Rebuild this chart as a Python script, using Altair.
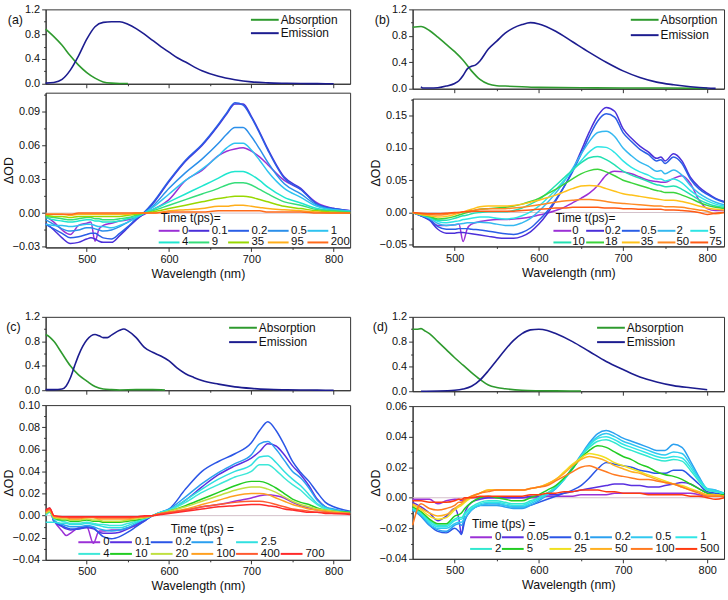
import altair as alt
import pandas as pd

FONT = "Liberation Sans"

# ---------------- Panel (a) ----------------
A_ABS_WL = [450, 460, 470, 480, 490, 500, 510, 520, 530, 540, 550]
A_ABS = [0.88, 0.76, 0.62, 0.45, 0.30, 0.18, 0.09, 0.03, 0.01, 0.005, 0.005]
A_EM_WL = [450, 460, 470, 480, 490, 500, 510, 520, 530, 540, 550, 560, 570, 580, 590, 600, 610, 620, 640, 660,
           680, 700, 720, 740, 760, 780, 800]
A_EM = [0.01, 0.02, 0.07, 0.22, 0.45, 0.72, 0.92, 0.99, 1.0, 1.0, 0.96, 0.89, 0.80, 0.70, 0.60, 0.51, 0.42, 0.35,
        0.21, 0.12, 0.065, 0.03, 0.015, 0.008, 0.004, 0.002, 0.0]
A_WL = [450, 460, 470, 480, 490, 500, 505, 510, 515, 520, 530, 540, 550, 560, 570, 580, 600, 620, 640, 660, 670, 680,
        690, 700, 710, 720, 740, 760, 780, 800, 820]
A_TIMES = ["0", "0.1", "0.2", "0.5", "1", "4", "9", "35", "95", "200"]
A_COLORS = ["#9b30d6", "#4b2fd9", "#2a5ee6", "#2b8fea", "#2fc3f0", "#1fe6cf", "#35dd7a", "#98d800", "#ffae1a", "#ff6a1a"]
A_MOD = [  # delta OD x 1000
    [-3, -8, -15, -19, -11, -9, -8, -25, -14, -11, -9, -7, -6, -4, -1, 3, 12, 29, 38, 51, 55, 57, 58, 55, 50, 43, 29, 21, 9, 4, 2],
    [-9, -15, -22, -27, -26, -23, -22, -23, -25, -26, -26, -20, -13, -6, 0, 8, 28, 46, 60, 78, 88, 97, 97, 86, 72, 57, 32, 22, 8, 4, 2],
    [-10, -14, -18, -22, -21, -19, -18, -18, -20, -22, -23, -18, -12, -5, 1, 9, 29, 47, 61, 79, 89, 98, 96, 85, 71, 56, 31, 21, 8, 4, 2],
    [-6, -10, -14, -16, -15, -13, -13, -14, -15, -16, -15, -12, -8, -4, 0, 6, 22, 36, 48, 62, 70, 76, 76, 68, 57, 45, 26, 17, 7, 3, 2],
    [-10, -11, -11, -12, -11, -10, -10, -11, -12, -12, -13, -11, -8, -4, 0, 5, 17, 29, 39, 51, 58, 62, 62, 56, 47, 37, 22, 14, 6, 3, 2],
    [-4, -6, -7, -8, -7, -6, -6, -7, -7, -8, -8, -7, -5, -3, 0, 3, 10, 17, 24, 31, 35, 37, 37, 34, 29, 23, 14, 9, 4, 2, 1],
    [-3, -4, -5, -6, -5, -4, -4, -5, -5, -6, -6, -5, -4, -2, 0, 2, 7, 12, 17, 22, 25, 27, 27, 25, 21, 17, 10, 7, 3, 2, 1],
    [-2, -3, -3, -4, -3, -3, -3, -3, -3, -3, -3, -3, -2, -1, 0, 1, 4, 7, 10, 13, 14, 15, 15, 14, 12, 10, 6, 4, 2, 1, 0],
    [-1, -1, -1, -2, -1, -1, -1, -1, -1, -1, -1, -1, -1, 0, 0, 0, 2, 3, 4, 6, 6, 7, 7, 6, 5, 4, 3, 2, 1, 0, 0],
    [-1, -1, -1, -1, 0, 0, 0, 0, 0, 0, 0, 0, 0, 0, 0, 0, 1, 1, 1, 2, 2, 2, 2, 2, 2, 1, 1, 1, 0, 0, 0],
]

# ---------------- Panel (b) ----------------
B_ABS_WL = [450, 460, 470, 480, 490, 500, 510, 520, 530, 540, 550, 560, 580, 600, 650, 700, 750, 800]
B_ABS = [0.93, 0.94, 0.88, 0.78, 0.67, 0.56, 0.43, 0.27, 0.14, 0.07, 0.045, 0.04, 0.03, 0.02, 0.015, 0.01, 0.01, 0.005]
B_EM_WL = [460, 462, 470, 480, 490, 500, 505, 510, 515, 520, 525, 530, 540, 550, 560, 570, 580, 590, 600, 620,
           640, 660, 680, 700, 720, 740, 760, 780, 800, 810]
B_EM = [0.03, 0.01, 0.01, 0.015, 0.04, 0.08, 0.12, 0.2, 0.3, 0.34, 0.36, 0.42, 0.6, 0.72, 0.84, 0.92, 0.97, 1.0, 0.98,
        0.87, 0.71, 0.55, 0.4, 0.27, 0.17, 0.1, 0.06, 0.03, 0.01, 0.005]
B_WL = [450, 460, 470, 480, 490, 500, 505, 510, 515, 520, 530, 540, 550, 560, 570, 580, 590, 600, 610, 620, 630, 640,
        650, 660, 670, 680, 690, 700, 710, 720, 730, 740, 745, 750, 760, 770, 780, 790, 800, 810, 820]
B_TIMES = ["0", "0.2", "0.5", "2", "5", "10", "18", "35", "50", "75"]
B_COLORS = ["#9b30d6", "#4b2fd9", "#2a5ee6", "#35b8f0", "#2ee5e5", "#22e0b0", "#3bd43b", "#ffc21a", "#ff8a24", "#ff5a14"]
B_MOD = [
    [0, -5, -10, -20, -20, -19, -18, -45, -25, -18, -14, -12, -11, -11, -10, -9, -7, -4, -1, 3, 8, 15, 22, 30, 42, 58, 64, 63, 60, 55, 50, 48, 47, 47, 53, 57, 45, 20, 6, 3, 3],
    [0, -5, -12, -26, -32, -32, -31, -31, -32, -33, -35, -37, -39, -40, -40, -37, -30, -18, -2, 18, 40, 65, 95, 125, 150, 163, 157, 130, 115, 103, 94, 84, 86, 80, 91, 80, 55, 40, 30, 22, 17],
    [0, -5, -11, -22, -26, -26, -25, -25, -25, -26, -27, -29, -31, -33, -34, -31, -24, -12, 2, 20, 40, 63, 90, 118, 142, 153, 148, 124, 110, 98, 90, 80, 82, 76, 86, 76, 52, 37, 28, 21, 16],
    [0, -4, -9, -17, -20, -19, -18, -17, -16, -16, -15, -16, -18, -20, -20, -16, -9, 2, 15, 30, 48, 68, 90, 110, 124, 126, 118, 100, 88, 78, 72, 64, 65, 60, 66, 58, 42, 30, 22, 16, 12],
    [0, -4, -8, -14, -16, -14, -13, -11, -10, -9, -7, -7, -9, -10, -9, -5, 1, 10, 22, 35, 50, 65, 80, 94, 102, 101, 93, 80, 70, 63, 58, 52, 52, 49, 52, 46, 34, 25, 18, 13, 10],
    [0, -4, -7, -12, -12, -9, -7, -5, -4, -2, 0, 1, 1, 1, 3, 7, 13, 20, 30, 42, 54, 66, 77, 85, 87, 82, 74, 64, 58, 53, 48, 43, 42, 40, 41, 36, 28, 20, 14, 10, 8],
    [0, -3, -6, -10, -9, -6, -4, -2, 0, 2, 5, 6, 7, 8, 10, 13, 17, 22, 29, 36, 44, 52, 60, 65, 67, 63, 57, 50, 46, 42, 38, 34, 33, 31, 31, 27, 22, 16, 11, 8, 6],
    [0, -3, -5, -7, -6, -3, -1, 1, 3, 5, 9, 10, 10, 10, 11, 13, 16, 19, 23, 27, 32, 37, 41, 42, 41, 37, 33, 29, 27, 25, 23, 21, 20, 19, 19, 17, 14, 10, 7, 5, 4],
    [0, -2, -3, -4, -3, -1, 0, 1, 2, 3, 5, 6, 6, 6, 7, 8, 10, 12, 14, 16, 18, 19, 20, 20, 19, 17, 15, 14, 13, 12, 11, 10, 10, 9, 9, 8, 6, 4, 2, -2, 0],
    [0, -1, -2, -2, -1, 0, 0, 1, 1, 2, 2, 2, 2, 2, 2, 3, 4, 5, 6, 7, 7, 8, 8, 8, 8, 7, 7, 6, 6, 5, 5, 5, 5, 4, 4, 3, 2, 0, -3, -1, 0],
]

# ---------------- Panel (c) ----------------
C_ABS_WL = [450, 455, 460, 470, 480, 490, 500, 510, 520, 530, 540, 560, 580, 595]
C_ABS = [0.91, 0.87, 0.80, 0.60, 0.40, 0.25, 0.15, 0.06, 0.02, 0.01, 0.005, 0.01, 0.01, 0.005]
C_EM_WL = [450, 460, 470, 475, 480, 485, 490, 500, 510, 515, 520, 525, 530, 540, 545, 550, 560, 570, 580, 590, 600,
           610, 620, 630, 640, 660, 680, 700, 720, 740, 760, 780, 800]
C_EM = [0.01, 0.01, 0.02, 0.07, 0.2, 0.39, 0.57, 0.82, 0.91, 0.89, 0.86, 0.86, 0.9, 0.98, 1.0, 0.97, 0.86, 0.7, 0.62,
        0.56, 0.48, 0.36, 0.27, 0.21, 0.16, 0.1, 0.055, 0.03, 0.015, 0.008, 0.004, 0.002, 0.0]
C_WL = [450, 455, 460, 470, 475, 480, 490, 500, 508, 515, 520, 530, 540, 550, 560, 570, 580, 590, 600, 620, 640, 660,
        680, 700, 710, 720, 730, 740, 750, 760, 770, 780, 790, 800, 820]
C_TIMES = ["0", "0.1", "0.2", "1", "2.5", "4", "10", "20", "100", "400", "700"]
C_COLORS = ["#9b30d6", "#5a2fe0", "#2a55e6", "#2a9ff0", "#30e0e0", "#3de8d8", "#22cc22", "#c0e040", "#ffa020", "#ff5a30", "#ff2a2a"]
C_MOD = [
    [2, 5, -4, -14, -18, -16, -11, -10, -25, -14, -14, -13, -13, -11, -9, -5, 0, 2, 3, 5, 8, 10, 13, 16, 18, 19, 18, 16, 12, 9, 7, 5, 4, 3, 2],
    [3, 6, -5, -10, -12, -13, -12, -11, -12, -15, -16, -16, -15, -12, -8, -4, 0, 3, 5, 14, 26, 37, 45, 52, 58, 65, 63, 55, 45, 37, 27, 15, 8, 5, 3],
    [3, 7, -5, -9, -11, -12, -12, -10, -11, -16, -19, -21, -19, -15, -10, -5, 0, 3, 6, 24, 40, 49, 56, 66, 77, 85, 77, 64, 49, 39, 31, 21, 12, 8, 4],
    [2, 5, -4, -8, -9, -10, -10, -9, -10, -12, -13, -14, -13, -11, -7, -3, 0, 3, 6, 17, 29, 39, 47, 55, 65, 67, 60, 50, 40, 34, 25, 14, 8, 6, 3],
    [-6, -6, -6, -7, -7, -8, -8, -7, -8, -9, -10, -11, -11, -9, -6, -3, 0, 3, 5, 14, 24, 33, 40, 46, 53, 54, 48, 40, 33, 27, 19, 11, 7, 5, 3],
    [0, 3, -3, -5, -6, -7, -7, -6, -7, -8, -8, -9, -9, -7, -5, -2, 0, 3, 5, 12, 21, 28, 35, 40, 46, 46, 41, 34, 28, 23, 16, 10, 6, 4, 3],
    [2, 4, -2, -4, -4, -5, -5, -4, -5, -5, -6, -6, -6, -5, -4, -2, 0, 2, 4, 9, 15, 21, 27, 31, 31, 29, 25, 20, 15, 12, 10, 7, 5, 4, 3],
    [2, 4, -2, -3, -3, -4, -4, -3, -4, -4, -5, -5, -5, -4, -3, -2, 0, 2, 4, 8, 13, 18, 23, 26, 26, 24, 21, 17, 13, 10, 8, 6, 5, 4, 2],
    [3, 5, -1, -2, -2, -3, -3, -2, -2, -3, -3, -3, -3, -3, -2, -1, 0, 2, 3, 6, 10, 14, 18, 20, 20, 19, 16, 13, 10, 8, 6, 5, 4, 3, 2],
    [4, 6, 0, -1, -1, -2, -2, -1, -1, -2, -2, -2, -2, -2, -1, -1, 0, 2, 3, 5, 8, 10, 12, 13, 13, 12, 10, 8, 6, 5, 4, 3, 3, 2, 2],
    [5, 7, 0, -1, -1, -1, -1, -1, -1, -1, -1, -1, -1, -1, -1, 0, 0, 1, 2, 4, 6, 8, 9, 10, 10, 9, 8, 6, 5, 4, 3, 3, 2, 2, 1],
]

# ---------------- Panel (d) ----------------
D_ABS_WL = [450, 455, 460, 465, 470, 480, 490, 500, 510, 520, 530, 540, 550, 560, 580, 600, 620, 650]
D_ABS = [1.0, 1.0, 1.01, 0.97, 0.93, 0.8, 0.67, 0.54, 0.42, 0.3, 0.19, 0.1, 0.06, 0.04, 0.015, 0.008, 0.005, 0.003]
D_EM_WL = [460, 480, 500, 510, 520, 530, 540, 550, 560, 570, 580, 590, 600, 610, 620, 640, 660, 680, 700, 720, 740,
           760, 780, 800]
D_EM = [0.0, 0.003, 0.015, 0.035, 0.08, 0.18, 0.33, 0.5, 0.67, 0.82, 0.93, 0.99, 1.0, 0.98, 0.93, 0.8, 0.64, 0.48,
        0.35, 0.23, 0.15, 0.09, 0.055, 0.025]
D_WL = [450, 460, 470, 480, 490, 500, 505, 508, 512, 520, 530, 540, 550, 560, 570, 580, 590, 600, 610, 620, 630, 640,
        650, 660, 670, 680, 690, 700, 710, 720, 730, 740, 750, 760, 770, 780, 790, 800, 810, 820]
D_TIMES = ["0", "0.05", "0.1", "0.2", "0.5", "1", "2", "5", "25", "50", "100", "500"]
D_COLORS = ["#9b30d6", "#5a30e0", "#2a55e6", "#2aa0f0", "#30c8f0", "#30e6e6", "#30e8d0", "#22cc22", "#f0e020", "#ffb020", "#ff7a20", "#ff3a10"]
D_MOD = [
    [-1, -1, -1, -4, -2, -1, -1, -2, -1, 0, 0, 0, 0, 0, 0, 0, 0, 0, 1, 1, 1, 1, 2, 2, 2, 2, 3, 3, 3, 3, 3, 3, 3, 3, 3, 3, 2, 1, 1, 1],
    [-3, -6, -10, -15, -12, -7, -14, -24, -10, -3, -1, 0, 0, 0, 0, 0, 1, 1, 2, 2, 3, 4, 5, 6, 7, 8, 9, 9, 8, 8, 7, 7, 8, 9, 10, 9, 6, 3, 2, 1],
    [-8, -12, -18, -22, -23, -20, -22, -24, -15, -8, -5, -4, -4, -5, -6, -6, -5, -3, -1, 1, 3, 5, 8, 13, 19, 23, 22, 21, 20, 18, 17, 16, 16, 18, 18, 14, 9, 4, 3, 2],
    [-8, -12, -18, -21, -22, -18, -17, -18, -14, -8, -5, -5, -5, -6, -7, -7, -5, -2, 2, 6, 12, 20, 28, 36, 42, 44, 42, 39, 37, 35, 33, 31, 31, 35, 33, 24, 14, 6, 5, 3],
    [-8, -11, -17, -20, -20, -17, -16, -16, -13, -8, -5, -4, -4, -5, -6, -6, -4, -1, 2, 6, 12, 19, 27, 35, 40, 42, 40, 37, 35, 33, 31, 29, 28, 30, 29, 22, 13, 6, 5, 3],
    [-7, -10, -16, -19, -19, -15, -14, -14, -11, -7, -4, -3, -3, -4, -5, -5, -3, 0, 3, 7, 12, 19, 27, 34, 39, 40, 38, 35, 33, 31, 29, 27, 26, 27, 26, 20, 12, 6, 4, 3],
    [-7, -10, -15, -18, -18, -14, -13, -13, -10, -6, -3, -2, -2, -3, -4, -4, -2, 0, 3, 7, 12, 19, 27, 33, 37, 38, 36, 33, 31, 29, 27, 25, 24, 25, 24, 18, 11, 5, 4, 3],
    [-6, -9, -14, -17, -17, -12, -11, -10, -7, -3, 0, 1, 0, -1, -2, -2, 0, 2, 5, 8, 13, 19, 26, 31, 34, 33, 30, 27, 25, 22, 20, 17, 15, 14, 12, 9, 6, 3, 2, 2],
    [-5, -8, -12, -14, -13, -8, -6, -5, -3, 0, 3, 5, 5, 5, 5, 5, 6, 7, 9, 12, 17, 22, 26, 29, 28, 26, 23, 21, 19, 17, 15, 13, 11, 9, 8, 6, 4, 2, 2, 1],
    [-4, -7, -10, -12, -11, -7, -5, -4, -2, 1, 3, 5, 5, 5, 5, 5, 6, 7, 9, 12, 16, 21, 25, 27, 26, 24, 21, 19, 17, 16, 14, 12, 10, 9, 7, 5, 4, 2, 2, 1],
    [-18, -4, -7, -8, -7, -5, -3, -3, -1, 1, 3, 4, 5, 5, 5, 5, 6, 7, 8, 11, 14, 17, 20, 21, 19, 17, 15, 14, 13, 12, 12, 11, 10, 9, 7, 5, 3, 1, 1, 1],
    [-2, -2, -3, -3, -3, -2, -1, -1, 0, 0, 1, 1, 1, 1, 1, 1, 2, 2, 3, 3, 4, 4, 5, 5, 5, 4, 4, 3, 3, 3, 2, 2, 2, 2, 2, 1, 1, 0, -1, 0],
]

ABS_COLOR = "#2e9a2e"
EM_COLOR = "#1c1c8f"
X_VALUES = [500, 550, 600, 650, 700, 750, 800]
X_TEST = "datum.value % 100 === 0"


def cond(test, major, minor):
    return {"condition": {"test": test, "value": major}, "value": minor}


def x_enc(show_labels):
    if show_labels:
        ax = alt.Axis(values=X_VALUES, labelExpr=X_TEST + " ? datum.label : ''", tickSize=cond(X_TEST, 4, 2),
                      title="Wavelength (nm)", labelPadding=2, titlePadding=3, labelOverlap=False,
                      titleFontSize=12.5)
    else:
        ax = alt.Axis(values=X_VALUES, labels=False, title=None, tickSize=cond(X_TEST, 4, 2))
    return alt.X("wl:Q", scale=alt.Scale(domain=[450, 820], nice=False, zero=False), axis=ax)


def top_chart(abs_wl, abs_v, em_wl, em_v, tag, width, height, leg_x, leg_y, row_pad, title_x):
    df = pd.DataFrame({
        "wl": list(abs_wl) + list(em_wl),
        "v": list(abs_v) + list(em_v),
        "s": ["Absorption"] * len(abs_wl) + ["Emission"] * len(em_wl),
    })
    legend = alt.Legend(title=None, orient="none", legendX=leg_x, legendY=leg_y,
                        symbolType="M-2.8,0H2.8", symbolSize=100, symbolStrokeWidth=2,
                        symbolOffset=6, labelOffset=10, labelFontSize=12,
                        rowPadding=row_pad, padding=0)
    ytest = "round(datum.value*10) % 4 === 0"
    return alt.Chart(df).mark_line(strokeWidth=1.6, interpolate="monotone").encode(
        x=x_enc(False),
        y=alt.Y("v:Q", scale=alt.Scale(domain=[0, 1.2], nice=False, zero=False),
                axis=alt.Axis(values=[0, 0.2, 0.4, 0.6, 0.8, 1.0, 1.2], format=".1f",
                              labelExpr=ytest + " ? datum.label : ''", tickSize=cond(ytest, 4, 2),
                              labelOverlap=False, labelPadding=2,
                              title=tag, titleAngle=0, titleX=title_x, titleY=10, titleAlign="center",
                              titleBaseline="middle", titleFontSize=12.5)),
        color=alt.Color("s:N", scale=alt.Scale(domain=["Absorption", "Emission"], range=[ABS_COLOR, EM_COLOR]),
                        legend=legend),
    ).properties(width=width, height=height)


def bottom_chart(wl, times, mod, colors, ydom, yvals, ytest, width, height, leg, blank_at=None):
    rows = []
    for t, vals in zip(times, mod):
        if len(vals) != len(wl):
            raise ValueError(f"series {t}: {len(vals)} values for {len(wl)} wavelengths")
        for w, v in zip(wl, vals):
            rows.append({"wl": w, "v": v / 1000.0, "t": t})
    df = pd.DataFrame(rows)
    dom = list(times)
    rng = list(colors)
    if blank_at is not None:
        dom.insert(blank_at, " ")
        rng.insert(blank_at, "rgba(0,0,0,0)")
    L = leg["L"]
    legend = alt.Legend(title=leg["title"], orient="none", legendX=leg["x"], legendY=leg["y"], columns=leg["cols"],
                        direction="horizontal", gridAlign="each",
                        symbolType=f"M-{L / 10},0H{L / 10}", symbolSize=100, symbolStrokeWidth=2,
                        symbolOffset=L / 2 - 8, labelOffset=L - 14, labelFontSize=11.5,
                        titleFontSize=12, titleFontWeight="normal", titlePadding=0, rowPadding=0,
                        columnPadding=leg["cp"], padding=0, titleAnchor=leg.get("anchor", "start"))
    y = alt.Y("v:Q", scale=alt.Scale(domain=ydom, nice=False, zero=False),
              axis=alt.Axis(values=yvals, format=".2f", labelExpr=ytest + " ? datum.label : ''",
                            tickSize=cond(ytest, 4, 2), labelOverlap=False, labelPadding=2,
                            title="ΔOD", titleX=-37, titleBaseline="middle", titleFontSize=12.5))
    zero = alt.Chart(pd.DataFrame({"v": [0.0]})).mark_rule(color="#d3c0c9", strokeWidth=1).encode(y=y)
    lines = alt.Chart(df).mark_line(strokeWidth=1.5, interpolate="monotone").encode(
        x=x_enc(True), y=y,
        color=alt.Color("t:N", scale=alt.Scale(domain=dom, range=rng), legend=legend),
    )
    return alt.layer(zero, lines).properties(width=width, height=height)


W1, W2 = 307, 314

top_a = top_chart(A_ABS_WL, A_ABS, A_EM_WL, A_EM, "(a)", W1, 75, 209, 4.5, 1.5, -31)
bot_a = bottom_chart(A_WL, A_TIMES, A_MOD, A_COLORS, [-0.0305, 0.107],
                     [-0.03, -0.015, 0, 0.015, 0.03, 0.045, 0.06, 0.075, 0.09, 0.105],
                     "abs(round(datum.value*1000)) % 30 === 0", W1, 156,
                     {"title": "Time t(ps)=", "x": 116, "y": 121, "cols": 5, "L": 21, "cp": -4})

top_b = top_chart(B_ABS_WL, B_ABS, B_EM_WL, B_EM, "(b)", W2, 80, 222, 4.5, 3.5, -31)
bot_b = bottom_chart(B_WL, B_TIMES, B_MOD, B_COLORS, [-0.0526, 0.1766],
                     [-0.05, -0.025, 0, 0.025, 0.05, 0.075, 0.1, 0.125, 0.15, 0.175],
                     "abs(round(datum.value*1000)) % 50 === 0", W2, 149,
                     {"title": "Time t(ps)=", "x": 144, "y": 115, "cols": 5, "L": 18, "cp": -3})

top_c = top_chart(C_ABS_WL, C_ABS, C_EM_WL, C_EM, "(c)", W1, 74, 187, 5, 2.5, -33)
bot_c = bottom_chart(C_WL, C_TIMES, C_MOD, C_COLORS, [-0.04, 0.10],
                     [-0.04, -0.03, -0.02, -0.01, 0, 0.01, 0.02, 0.03, 0.04, 0.05, 0.06, 0.07, 0.08, 0.09, 0.10],
                     "abs(round(datum.value*100)) % 2 === 0", W1, 156,
                     {"title": "Time t(ps) =", "x": 35, "y": 120, "cols": 6, "L": 22, "cp": -4, "anchor": "middle"},
                     blank_at=5)

top_d = top_chart(D_ABS_WL, D_ABS, D_EM_WL, D_EM, "(d)", W2, 75, 188, 5, 2.5, -33)
bot_d = bottom_chart(D_WL, D_TIMES, D_MOD, D_COLORS, [-0.04, 0.06],
                     [-0.04, -0.03, -0.02, -0.01, 0, 0.01, 0.02, 0.03, 0.04, 0.05, 0.06],
                     "abs(round(datum.value*100)) % 2 === 0", W2, 154,
                     {"title": "Time t(ps) =", "x": 60, "y": 114, "cols": 6, "L": 22, "cp": -4})


def quad(top, bot, gap):
    return alt.vconcat(top, bot, spacing=gap, bounds="flush").resolve_scale(color="independent")


col1 = alt.vconcat(quad(top_a, bot_a, 9), quad(top_c, bot_c, 15), spacing=30).resolve_scale(color="independent")
col2 = alt.vconcat(quad(top_b, bot_b, 10), quad(top_d, bot_d, 15), spacing=31).resolve_scale(color="independent")

chart = (
    alt.hconcat(col1, col2, spacing=15)
    .resolve_scale(color="independent")
    .properties(padding={"left": 2, "top": 0, "right": 0, "bottom": 0}, background="white")
    .configure(font=FONT)
    .configure_view(stroke="#333333", strokeWidth=1)
    .configure_axis(labelFont=FONT, titleFont=FONT, labelFontSize=11, titleFontWeight="normal", grid=False,
                    domainColor="#333333", tickColor="#333333", labelColor="#111111", titleColor="#111111")
    .configure_legend(labelFont=FONT, titleFont=FONT, labelColor="#111111", titleColor="#111111")
)

chart.save("out.html", embed_options={"renderer": "svg", "actions": False})
